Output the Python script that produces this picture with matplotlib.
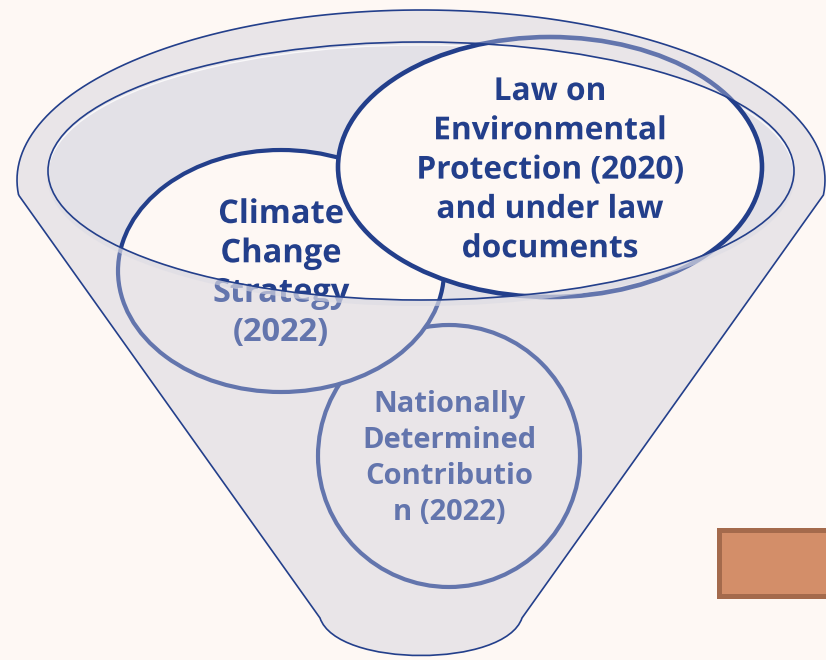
import numpy as np
import matplotlib.pyplot as plt
from matplotlib import patheffects
from matplotlib.patches import Ellipse, PathPatch, Rectangle
from matplotlib.path import Path

plt.rcParams['font.family'] = ['Open Sans', 'DejaVu Sans']

# the three policy documents, text split into lines as in the picture
law_lines = ['Law on', 'Environmental', 'Protection (2020)', 'and under law', 'documents']
ccs_lines = ['Climate', 'Change', 'Strategy', '(2022)']
ndc_lines = ['Nationally', 'Determined', 'Contributio', 'n (2022)']

# colours
bg = '#FEF8F4'
dark = '#233F8B'
faded = '#6375AD'
body = '#E9E5E8'
mouth_col = '#E3E1E7'

fig = plt.figure(figsize=(8.26, 6.6), dpi=100, facecolor=bg)
ax = fig.add_axes([0, 0, 1, 1])
ax.set_xlim(0, 826)
ax.set_ylim(660, 0)
ax.axis('off')

# funnel outline: top of the rim ellipse, then the cone down to a round bottom
cx, cy, a, b = 421, 180, 404, 170
t0 = np.arcsin(15 / b)
t = np.linspace(np.pi + t0, -t0, 120)
verts = list(zip(cx + a * np.cos(t), cy - b * np.sin(t)))
codes = [Path.MOVETO] + [Path.LINETO] * (len(verts) - 1)
verts += [(522, 618), (505, 668), (337, 668), (320, 618), verts[0]]
codes += [Path.LINETO, Path.CURVE4, Path.CURVE4, Path.CURVE4, Path.LINETO]
funnel = PathPatch(Path(verts, codes), facecolor=body, edgecolor=dark, lw=1.2, zorder=1)
ax.add_patch(funnel)

# shapes: (centre, width, height, line width)
ndc_geo = ((449, 456), 262, 262, 3.0)
ccs_geo = ((281, 271), 326, 242, 3.0)
law_geo = ((550, 167), 424, 260, 3.3)

# faded copies (seen through the funnel body)
for i, (c, w, h, lw) in enumerate([ndc_geo, ccs_geo, law_geo]):
    ax.add_patch(Ellipse(c, w, h, facecolor=body, edgecolor=faded, lw=lw, zorder=2 + i * 0.1))


def put_lines(lines, x, y0, step, size, color, z, clip=None):
    for k, s in enumerate(lines):
        tx = ax.text(x, y0 + k * step, s, ha='center', va='baseline', fontsize=size,
                     fontweight='bold', color=color, zorder=z)
        if clip is not None:
            # draw as path so the clip path is honoured
            tx.set_path_effects([patheffects.Normal()])
            tx.set_clip_on(True)
            tx.set_clip_path(clip)


put_lines(ndc_lines, 449, 412, 36, 21, faded, 2.5)
put_lines(ccs_lines, 281, 223, 39.3, 23.5, faded, 2.5)
put_lines(law_lines, 550, 100, 39.3, 22.8, faded, 2.5)

# soft shadow under the mouth rim
ax.add_patch(Ellipse((421, 176), 748, 260, facecolor='#DCDBE4', edgecolor='none',
                     alpha=0.6, zorder=2.9))

# mouth of the funnel, with the shapes in front of it
mouth = Ellipse((421, 171), 746, 258, facecolor=mouth_col, edgecolor='none', zorder=3)
ax.add_patch(mouth)
ax.add_patch(Ellipse((421, 174), 746, 258, facecolor='none', edgecolor='white',
                     lw=1.0, alpha=0.8, zorder=3.1, clip_path=mouth))

for i, (c, w, h, lw) in enumerate([ccs_geo, law_geo]):
    e = Ellipse(c, w, h, facecolor=bg, edgecolor=dark, lw=lw, zorder=4 + i * 0.1)
    ax.add_patch(e)
    e.set_clip_path(mouth)

put_lines(ccs_lines, 281, 223, 39.3, 23.5, dark, 4.5, clip=mouth)
put_lines(law_lines, 550, 100, 39.3, 22.8, dark, 4.5, clip=mouth)

ax.add_patch(Ellipse((421, 171), 746, 258, facecolor='none', edgecolor=dark, lw=1.2, zorder=5))

# orange box at the lower right
ax.add_patch(Rectangle((718.5, 529.5), 120, 66, facecolor='#D38E69', edgecolor='#A46A4C',
                       lw=3.6, zorder=6))

fig.savefig('out.png', dpi=100, facecolor=bg)
